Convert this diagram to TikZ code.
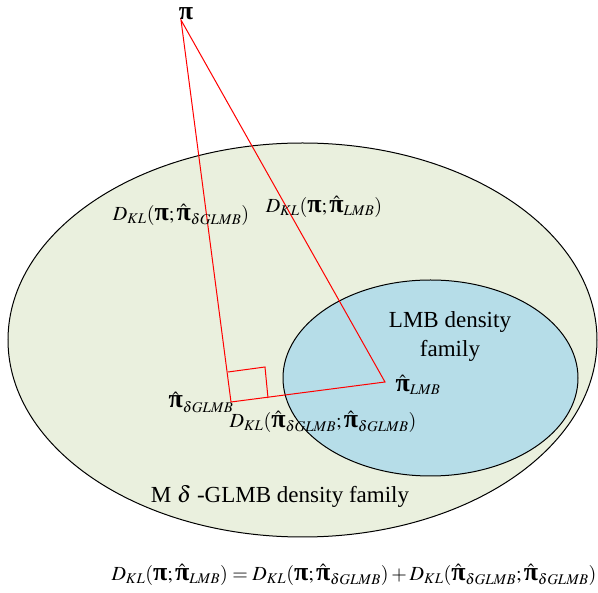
\documentclass[tikz,border=0pt]{standalone}
\usepackage{amsmath}
\usepackage{graphicx}
\usepackage{mathptmx}
\usepackage{fontspec}
\setmainfont{Liberation Serif}
\newcommand{\bpi}{\text{\scalebox{1.3}{\bfseries π}}}
\newcommand{\hpi}{\hat{\text{\scalebox{1.3}{\bfseries π}}}}
\begin{document}
\begin{tikzpicture}[x=1pt,y=-1pt,
  lab/.style={inner sep=0pt,font=\fontsize{20}{23}\selectfont},
  txt/.style={inner sep=0pt,font=\fontsize{23}{29}\selectfont},
  redline/.style={red,line width=1pt}]
\useasboundingbox (0,0) rectangle (598,593);
\draw[fill={rgb,255:red,234;green,240;blue,222},line width=1pt] (302.5,340) ellipse [x radius=294.5,y radius=197];
\draw[fill={rgb,255:red,182;green,221;blue,232},line width=1pt] (430.5,378) ellipse [x radius=147.5,y radius=98];
\coordinate (P) at (181,20);
\coordinate (G) at (231,402);
\coordinate (L) at (385,382);
\coordinate (s1) at (228,372);
\coordinate (s2) at (265,367);
\coordinate (s3) at (268,398);
\draw[redline] (P) -- (G) -- (L) -- cycle;
\draw[redline] (s1) -- (s2) -- (s3);
\node[lab] (tpi) at (186,14) {$\bpi$};
\node[lab] (tg) at (201,402) {$\hpi_{\delta GLMB}$};
\node[lab] (tl) at (418,385) {$\hpi_{LMB}$};
\node[lab] (d1) at (181,215) {$D_{KL}(\bpi;\hpi_{\delta GLMB})$};
\node[lab] (d2) at (324,207) {$D_{KL}(\bpi;\hpi_{LMB})$};
\node[lab] (d3) at (323,422) {$D_{KL}(\hpi_{\delta GLMB};\hpi_{\delta GLMB})$};
\node[txt,align=center] (lmb) at (450,337) {LMB density\\family};
\node[txt] (mfam) at (280,496) {M $\delta$ -GLMB density family};
\node[lab] (eq) at (354,575) {$D_{KL}(\bpi;\hpi_{LMB})=D_{KL}(\bpi;\hpi_{\delta GLMB})+D_{KL}(\hpi_{\delta GLMB};\hpi_{\delta GLMB})$};
\end{tikzpicture}
\end{document}
